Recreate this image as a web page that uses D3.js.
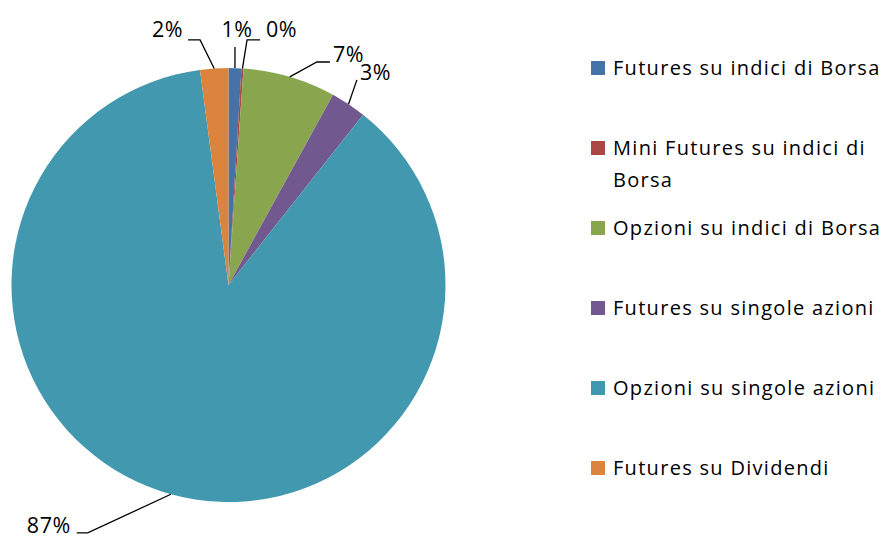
<!DOCTYPE html>
<html>
<head>
<meta charset="utf-8">
<script src="https://cdn.jsdelivr.net/npm/d3@7"></script>
<style>
  body { margin: 0; background: #fff; }
  svg { display: block; }
</style>
</head>
<body>
<svg id="chart" width="884" height="536"></svg>
<script>
// Chart data (percent shares)
const categories = [
  "Futures su indici di Borsa",
  "Mini Futures su indici di Borsa",
  "Opzioni su indici di Borsa",
  "Futures su singole azioni",
  "Opzioni su singole azioni",
  "Futures su Dividendi"
];
const shares = [0.95, 0.15, 6.9, 2.65, 87.25, 2.1];
const labels = ["1%", "0%", "7%", "3%", "87%", "2%"];
const legendLines = [
  ["Futures su indici di Borsa"],
  ["Mini Futures su indici di", "Borsa"],
  ["Opzioni su indici di Borsa"],
  ["Futures su singole azioni"],
  ["Opzioni su singole azioni"],
  ["Futures su Dividendi"]
];
const colors = ["#4572A7", "#AA4643", "#89A54E", "#71588F", "#4198AF", "#DB843D"];

// Leader line layout: elbow offset from the slice edge, horizontal tail, text offset
const labelLayout = [
  { ex: 0, ey: -21, tail: 0, tx: 2, ty: -10, anchor: "middle" },
  { ex: 4.6, ey: -28.6, tail: 13, tx: 6, ty: -3, anchor: "start" },
  { ex: 27.2, ey: -14.8, tail: 13, tx: 3, ty: 0, anchor: "start" },
  { ex: 8.4, ey: -24.3, tail: 0, tx: 3, ty: 0, anchor: "start" },
  { ex: -83.2, ey: 38.7, tail: -11, tx: -6, ty: 0, anchor: "end" },
  { ex: -14.1, ey: -28.5, tail: -12, tx: -5, ty: -3, anchor: "end" }
];

const svg = d3.select("#chart");
const font = "'Open Sans', 'Noto Sans', sans-serif";

const cx = 228.5, cy = 285, radius = 217;

const pie = d3.pie().sort(null).value(d => d)(shares);
const arc = d3.arc().innerRadius(0).outerRadius(radius);

const g = svg.append("g").attr("transform", `translate(${cx},${cy})`);

g.selectAll("path.slice")
  .data(pie)
  .join("path")
  .attr("class", "slice")
  .attr("d", arc)
  .attr("fill", (d, i) => colors[i]);

// Data labels with leader lines
pie.forEach((d, i) => {
  const lay = labelLayout[i];
  const mid = (d.startAngle + d.endAngle) / 2;
  const px = radius * Math.sin(mid);
  const py = -radius * Math.cos(mid);
  const ex = px + lay.ex, ey = py + lay.ey;
  const tx = ex + lay.tail;

  g.append("path")
    .attr("d", `M${px},${py}L${ex},${ey}L${tx},${ey}`)
    .attr("fill", "none")
    .attr("stroke", "#000")
    .attr("stroke-width", 1.3);

  g.append("text")
    .attr("x", tx + lay.tx)
    .attr("y", ey + lay.ty)
    .attr("text-anchor", lay.anchor)
    .attr("font-family", font)
    .attr("font-size", 21.5)
    .attr("letter-spacing", 0.5)
    .attr("fill", "#000")
    .text(labels[i]);
});

// Legend
const legend = svg.append("g").attr("transform", "translate(591,68)");
const rowStep = 80;

const items = legend.selectAll("g.item")
  .data(categories)
  .join("g")
  .attr("class", "item")
  .attr("transform", (d, i) => `translate(0,${i * rowStep})`);

items.append("rect")
  .attr("x", 0)
  .attr("y", -7)
  .attr("width", 14)
  .attr("height", 14)
  .attr("fill", (d, i) => colors[i]);

items.append("text")
  .attr("font-family", font)
  .attr("font-size", 20)
  .attr("letter-spacing", 1.3)
  .attr("fill", "#000")
  .selectAll("tspan")
  .data((d, i) => legendLines[i])
  .join("tspan")
  .attr("x", 22)
  .attr("y", (d, j) => 7 + j * 32)
  .text(d => d);
</script>
</body>
</html>
